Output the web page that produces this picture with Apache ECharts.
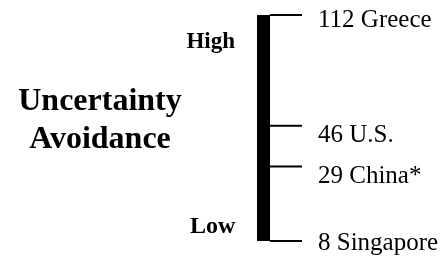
<!DOCTYPE html>
<html>
<head>
<meta charset="utf-8">
<script src="https://cdn.jsdelivr.net/npm/echarts@6/dist/echarts.min.js"></script>
<style>
    html, body { margin: 0; padding: 0; background: #fff; }
    #main { width: 445px; height: 259px; }
</style>
</head>
<body>
<div id="main"></div>
<script>
// Uncertainty avoidance scores
var countries = ['Greece', 'U.S.', 'China*', 'Singapore'];
var scores = [112, 46, 29, 8];
var levelLabels = ['High', 'Low'];

var serif = "'Liberation Serif', 'Times New Roman', serif";
// small vertical nudges of each label, as in the original figure
var labelShift = [5, 10, 10, 2];

// the original spaces the scores like a square-root scale
function pos(v) { return Math.sqrt(v); }

var tickData = [];
for (var i = 0; i < scores.length; i++) {
    tickData.push({
        value: [0, pos(scores[i])],
        name: scores[i] + ' ' + countries[i],
        label: { offset: [0, labelShift[i]] }
    });
}

var myChart = echarts.init(document.getElementById('main'));
var option = {
    animation: false,
    title: {
        text: 'Uncertainty\nAvoidance',
        left: 95,
        top: 78,
        textAlign: 'center',
        textStyle: {
            color: '#000',
            fontFamily: serif,
            fontSize: 32,
            fontWeight: 'bold',
            lineHeight: 38
        }
    },
    graphic: [
        {
            type: 'text',
            right: 210,
            top: 31,
            style: {
                text: levelLabels[0],
                fill: '#000',
                font: 'bold 23px ' + serif
            }
        },
        {
            type: 'text',
            left: 190,
            top: 215,
            style: {
                text: levelLabels[1],
                fill: '#000',
                font: 'bold 24px ' + serif
            }
        }
    ],
    grid: {
        left: 263.5,
        right: 0,
        top: 15,
        bottom: 18
    },
    xAxis: {
        type: 'value',
        min: 0,
        max: 1,
        show: false
    },
    yAxis: {
        type: 'value',
        min: pos(Math.min.apply(null, scores)),
        max: pos(Math.max.apply(null, scores)),
        axisLine: {
            show: true,
            lineStyle: { color: '#000', width: 13, cap: 'butt' }
        },
        axisTick: { show: false },
        axisLabel: { show: false },
        splitLine: { show: false }
    },
    series: [
        {
            type: 'scatter',
            data: tickData,
            symbol: 'rect',
            symbolSize: [32, 2],
            symbolOffset: [22.5, 0],
            itemStyle: { color: '#000', opacity: 1 },
            label: {
                show: true,
                position: 'right',
                distance: 16,
                formatter: '{b}',
                color: '#000',
                fontFamily: serif,
                fontSize: 25
            }
        }
    ]
};
myChart.setOption(option);
</script>
</body>
</html>
